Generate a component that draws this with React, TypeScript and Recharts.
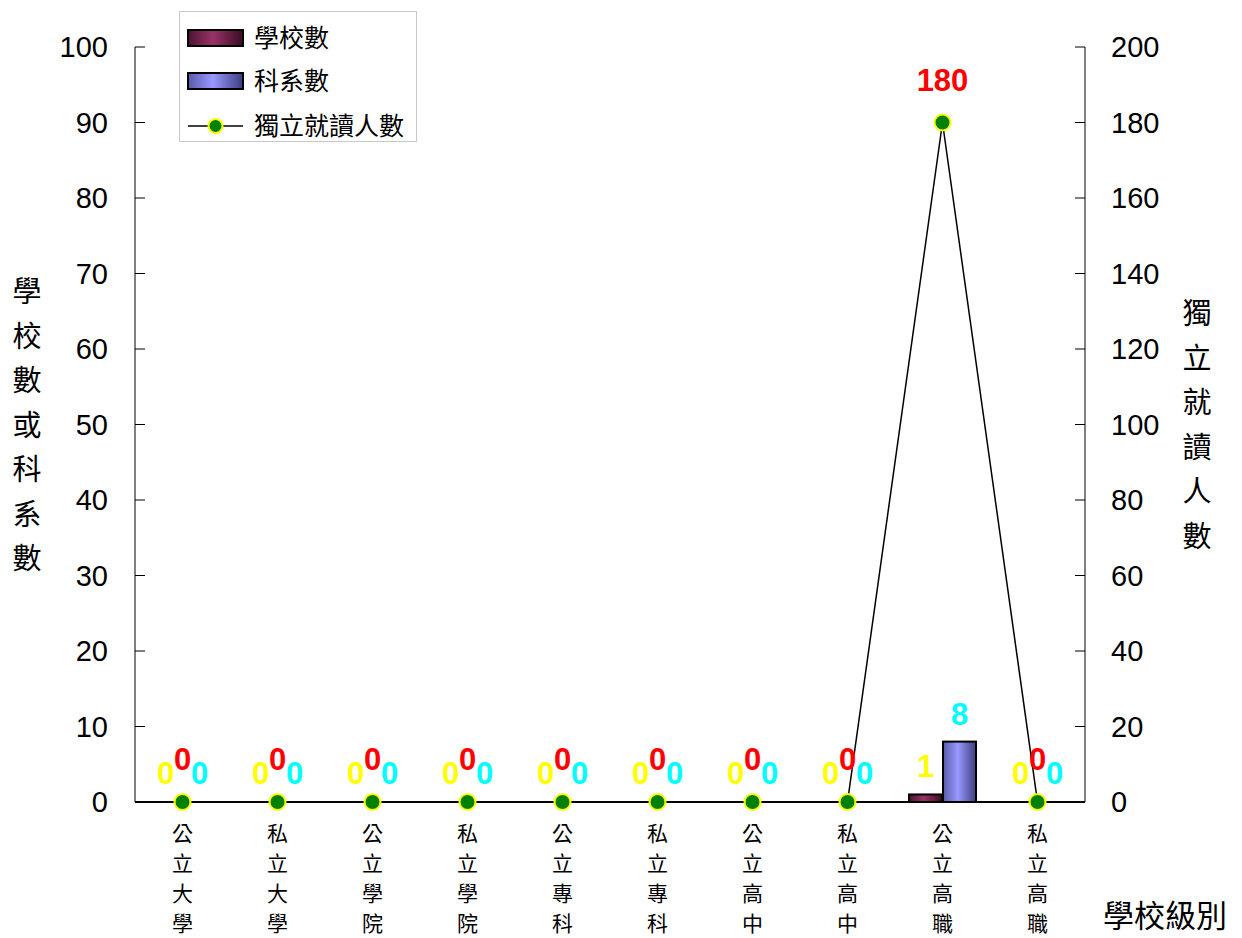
import {
  Bar,
  ComposedChart,
  LabelList,
  Legend,
  Line,
  XAxis,
  YAxis
} from "recharts";

const CATEGORIES = [
  "公立大學",
  "私立大學",
  "公立學院",
  "私立學院",
  "公立專科",
  "私立專科",
  "公立高中",
  "私立高中",
  "公立高職",
  "私立高職"
];
const SCHOOL_COUNTS = [0, 0, 0, 0, 0, 0, 0, 0, 1, 0];
const DEPT_COUNTS = [0, 0, 0, 0, 0, 0, 0, 0, 8, 0];
const STUDENT_COUNTS = [0, 0, 0, 0, 0, 0, 0, 0, 180, 0];

const LEFT_TICKS = [0, 10, 20, 30, 40, 50, 60, 70, 80, 90, 100];
const RIGHT_TICKS = [0, 20, 40, 60, 80, 100, 120, 140, 160, 180, 200];
const SLOT_TICKS = [1, 2, 3, 4, 5, 6, 7, 8, 9];

const LEFT_TITLE = "學校數或科系數";
const RIGHT_TITLE = "獨立就讀人數";
const X_TITLE = "學校級別";

const SERIES_NAMES = ["學校數", "科系數", "獨立就讀人數"];

const data = CATEGORIES.map((name, i) => ({
  name,
  slot: i + 0.5,
  schools: SCHOOL_COUNTS[i],
  depts: DEPT_COUNTS[i],
  students: STUDENT_COUNTS[i]
}));

const NUM_FONT = '"Liberation Sans", Arial, sans-serif';
const CJK_FONT = '"Noto Sans CJK TC", "Noto Sans CJK SC", sans-serif';

// zero-valued bars keep a 1px slot so their labels still get drawn
const keepZero = (v: number) => (v === 0 ? 1 : 0);

function TopLabel(props: any) {
  const { x, y, width, value, color, lift } = props;
  const cx = x + (width ?? 0) / 2;
  return (
    <text
      x={cx}
      y={y - lift}
      fill={color}
      textAnchor="middle"
      fontFamily={NUM_FONT}
      fontWeight="bold"
      fontSize={31}
    >
      {value}
    </text>
  );
}

function makeBarShape(key: string) {
  return (p: any) => {
    if (!p.payload || !(p.payload[key] > 0)) return <g />;
    return (
      <rect
        x={p.x}
        y={p.y}
        width={p.width}
        height={p.height}
        fill={p.fill}
        stroke="#000"
        strokeWidth={2}
      />
    );
  };
}

function CategoryTick(props: any) {
  const { x, y, payload } = props;
  const chars = String(payload.value).split("");
  return (
    <g>
      {chars.map((c, i) => (
        <text
          key={i}
          x={x}
          y={y + 39 + i * 30}
          textAnchor="middle"
          fontFamily={CJK_FONT}
          fontSize={21}
          fill="#000"
        >
          {c}
        </text>
      ))}
    </g>
  );
}

function VerticalTitle(props: any) {
  const { viewBox, text, dx } = props;
  const chars = text.split("");
  const cy = viewBox.y + viewBox.height / 2;
  const step = 44.5;
  const start = cy - ((chars.length - 1) * step) / 2;
  return (
    <g>
      {chars.map((c: string, i: number) => (
        <text
          key={i}
          x={viewBox.x + dx}
          y={start + i * step + 11}
          textAnchor="middle"
          fontFamily={CJK_FONT}
          fontSize={29}
          fill="#000"
        >
          {c}
        </text>
      ))}
    </g>
  );
}

function XTitle(props: any) {
  const { viewBox } = props;
  return (
    <text
      x={viewBox.x + viewBox.width + 18}
      y={viewBox.y + 125}
      fontFamily={CJK_FONT}
      fontSize={31}
      fill="#000"
    >
      {X_TITLE}
    </text>
  );
}

function LegendBox() {
  const rows = [27, 70, 115];
  return (
    <svg width={240} height={132} style={{ display: "block" }}>
      <rect x={0.5} y={0.5} width={237} height={130} fill="#fff" stroke="#c8c8c8" />
      <rect x={9} y={rows[0] - 8} width={55} height={16} fill="url(#gradSchool)" stroke="#000" strokeWidth={2} />
      <rect x={9} y={rows[1] - 8} width={55} height={16} fill="url(#gradDept)" stroke="#000" strokeWidth={2} />
      <line x1={9} x2={64} y1={rows[2]} y2={rows[2]} stroke="#000" strokeWidth={1.5} />
      <circle cx={36.5} cy={rows[2]} r={7} fill="#008000" stroke="#ffff00" strokeWidth={2} />
      {SERIES_NAMES.map((n, i) => (
        <text
          key={n}
          x={75}
          y={rows[i] + 9}
          fontFamily={CJK_FONT}
          fontSize={25}
          fill="#000"
        >
          {n}
        </text>
      ))}
    </svg>
  );
}

export default function App() {
  return (
    <div style={{ position: "absolute", left: 0, top: 0, width: 1242, height: 938, background: "#fff" }}>
      <ComposedChart
        width={1242}
        height={938}
        data={data}
        margin={{ top: 47, right: 0, left: 0, bottom: 0 }}
        barGap={1}
      >
        <defs>
          <linearGradient id="gradSchool" x1="0" y1="0" x2="1" y2="0">
            <stop offset="0%" stopColor="#4d1232" />
            <stop offset="45%" stopColor="#993366" />
            <stop offset="100%" stopColor="#3a0c24" />
          </linearGradient>
          <linearGradient id="gradDept" x1="0" y1="0" x2="1" y2="0">
            <stop offset="0%" stopColor="#5a5aa8" />
            <stop offset="45%" stopColor="#9999ff" />
            <stop offset="100%" stopColor="#3c3c80" />
          </linearGradient>
        </defs>
        <XAxis
          dataKey="name"
          height={136}
          interval={0}
          tickLine={false}
          tickSize={0}
          tickMargin={0}
          axisLine={{ stroke: "#000", strokeWidth: 2 }}
          tick={<CategoryTick />}
          label={<XTitle />}
        />
        <XAxis
          xAxisId="slots"
          dataKey="slot"
          type="number"
          domain={[0, 10]}
          allowDataOverflow
          ticks={SLOT_TICKS}
          mirror
          tick={false}
          tickSize={9}
          axisLine={false}
          tickLine={{ stroke: "#000" }}
        />
        <YAxis
          yAxisId="left"
          width={135}
          domain={[0, 100]}
          ticks={LEFT_TICKS}
          interval={0}
          tickSize={-10}
          tickMargin={37}
          axisLine={{ stroke: "#000" }}
          tickLine={{ stroke: "#000" }}
          tick={{ fill: "#000", fontSize: 29, fontFamily: NUM_FONT }}
          label={<VerticalTitle text={LEFT_TITLE} dx={27} />}
        />
        <YAxis
          yAxisId="right"
          orientation="right"
          width={157}
          domain={[0, 200]}
          ticks={RIGHT_TICKS}
          interval={0}
          tickSize={-10}
          tickMargin={36}
          axisLine={{ stroke: "#000" }}
          tickLine={{ stroke: "#000" }}
          tick={{ fill: "#000", fontSize: 29, fontFamily: NUM_FONT }}
          label={<VerticalTitle text={RIGHT_TITLE} dx={112} />}
        />
        <Legend
          layout="vertical"
          align="center"
          verticalAlign="middle"
          content={<LegendBox />}
          wrapperStyle={{ left: 179, top: 11, width: 240, height: 132 }}
        />
        <Bar
          yAxisId="left"
          dataKey="schools"
          name={SERIES_NAMES[0]}
          barSize={33}
          minPointSize={keepZero}
          fill="url(#gradSchool)"
          shape={makeBarShape("schools")}
          isAnimationActive={false}
        >
          <LabelList dataKey="schools" content={<TopLabel color="#ffff00" lift={17} />} />
        </Bar>
        <Bar
          yAxisId="left"
          dataKey="depts"
          name={SERIES_NAMES[1]}
          barSize={33}
          minPointSize={keepZero}
          fill="url(#gradDept)"
          shape={makeBarShape("depts")}
          isAnimationActive={false}
        >
          <LabelList dataKey="depts" content={<TopLabel color="#00ffff" lift={17} />} />
        </Bar>
        <Line
          yAxisId="right"
          dataKey="students"
          name={SERIES_NAMES[2]}
          stroke="#000"
          strokeWidth={1.5}
          dot={{ r: 8, fill: "#008000", stroke: "#ffff00", strokeWidth: 2 }}
          activeDot={false}
          isAnimationActive={false}
        >
          <LabelList dataKey="students" content={<TopLabel color="#ff0000" lift={32} />} />
        </Line>
      </ComposedChart>
    </div>
  );
}
